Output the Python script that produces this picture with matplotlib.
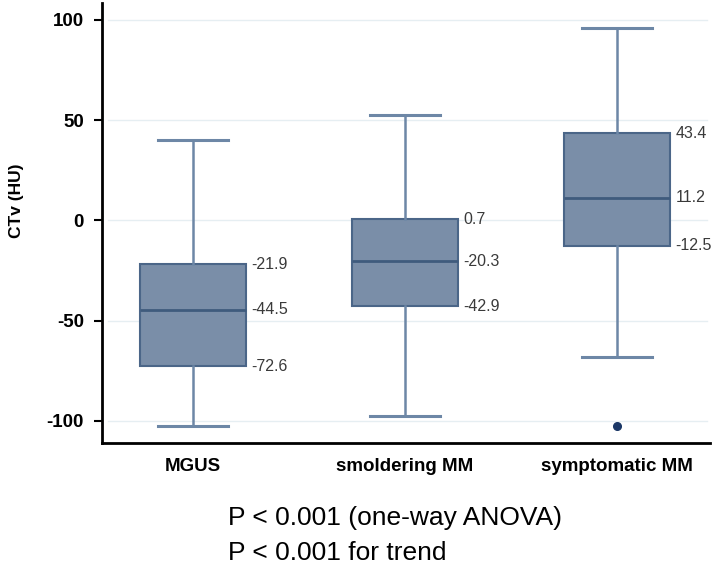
import matplotlib
matplotlib.use("Agg")
import matplotlib.pyplot as plt

plt.rcParams['font.family'] = ['Liberation Sans', 'DejaVu Sans']

categories = ["MGUS", "smoldering MM", "symptomatic MM"]
whisker_low = [-102.5, -97.3, -68.2]
q1 = [-72.6, -42.9, -12.5]
median = [-44.5, -20.3, 11.2]
q3 = [-21.9, 0.7, 43.4]
whisker_high = [40.0, 52.4, 96.0]
outliers = [[], [], [-102.5]]
yticks = [-100, -50, 0, 50, 100]

fill_c = "#7a8ea8"
edge_c = "#4b6688"
whisk_c = "#6d87a6"
dot_c = "#1b3766"

fig = plt.figure(figsize=(7.2, 5.68), dpi=100)
ax = fig.add_axes([0.1417, 0.22, 0.844, 0.775])

stats = []
for i, c in enumerate(categories):
    stats.append(dict(label=c, whislo=whisker_low[i], q1=q1[i], med=median[i],
                      q3=q3[i], whishi=whisker_high[i], fliers=outliers[i]))

pos = [1, 2, 3]
ax.bxp(stats, positions=pos, widths=0.5, patch_artist=True, showfliers=True,
       boxprops=dict(facecolor=fill_c, edgecolor=edge_c, linewidth=1.5),
       medianprops=dict(color="#3f5b7d", linewidth=2),
       whiskerprops=dict(color=whisk_c, linewidth=1.8),
       capprops=dict(color=whisk_c, linewidth=2.2),
       capwidths=0.33,
       flierprops=dict(marker='o', markerfacecolor=dot_c, markeredgecolor=dot_c,
                       markersize=5.5))

for i, p in enumerate(pos):
    xoff = p + 0.25 + 0.025
    for v in (q3[i], median[i], q1[i]):
        ax.text(xoff, v, f"{v:.1f}", ha='left', va='center', fontsize=11.5,
                color="#3a3a3a")

ax.set_xlim(0.572, 3.435)
ax.set_ylim(-111, 108.5)
ax.set_yticks(yticks)
ax.set_yticklabels([str(t) for t in yticks], fontsize=13.5, fontweight='bold')
ax.set_xticks(pos)
ax.set_xticklabels(categories, fontsize=13.5, fontweight='bold')
ax.tick_params(axis='x', length=0, pad=11)
ax.tick_params(axis='y', length=6, width=1.5, pad=7)
for t in yticks:
    ax.axhline(t, xmin=0.01, xmax=0.995, color="#e6eef2", linewidth=1, zorder=0)
ax.spines['top'].set_visible(False)
ax.spines['right'].set_visible(False)
ax.spines['left'].set_linewidth(2)
ax.spines['bottom'].set_linewidth(2)
ax.set_ylabel("CTv (HU)", fontsize=12.5, fontweight='bold')
ax.yaxis.set_label_coords(-0.128, 0.55)

fig.text(0.317, 0.088, "P < 0.001 (one-way ANOVA)", fontsize=19, ha='left', va='center')
fig.text(0.317, 0.026, "P < 0.001 for trend", fontsize=19, ha='left', va='center')

fig.savefig("out.png", dpi=100)
